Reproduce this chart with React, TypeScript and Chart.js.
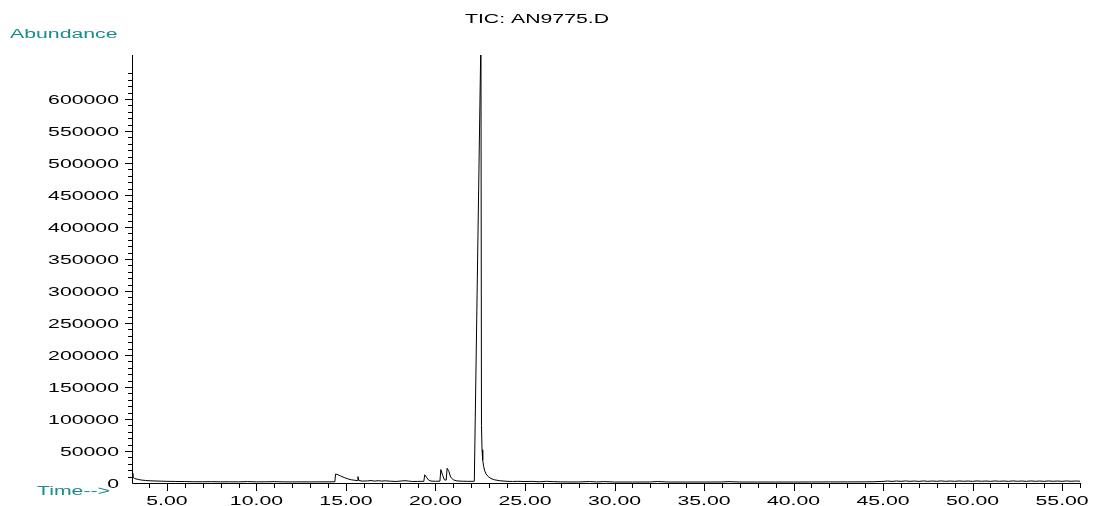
import React, { useEffect, useRef } from "react";
import { Chart, registerables } from "chart.js";

Chart.register(...registerables);

const TITLE = "TIC: AN9775.D";
const Y_LABEL = "Abundance";
const X_LABEL = "Time-->";

const TIMES = [
  3.05, 3.1, 3.2, 3.4, 3.6, 3.8, 4.0, 4.5, 5.0, 5.5, 6.0, 6.5, 7.0, 7.5, 8.0, 8.5, 9.0, 9.5, 10.0, 10.5,
  11.0, 11.5, 12.0, 12.5, 13.0, 13.5, 14.0, 14.38, 14.42, 14.55, 14.7, 14.9, 15.1, 15.3, 15.5, 15.62, 15.67, 15.72,
  15.9, 16.2, 16.4, 16.6, 16.8, 17.0, 17.2, 17.5, 17.8, 18.1, 18.3, 18.5, 18.7, 19.0, 19.35, 19.4, 19.5, 19.6,
  19.75, 20.0, 20.25, 20.3, 20.4, 20.5, 20.6, 20.65, 20.75, 20.85, 21.0, 21.2, 21.5, 21.8, 22.1, 22.17, 22.54,
  22.57, 22.6, 22.64, 22.69, 22.75, 22.83, 22.95, 23.1, 23.3, 23.6, 24.0, 24.3, 24.6, 25.0, 25.4, 25.8, 26.2, 26.6, 27.0,
  28.0, 28.6, 29.0, 29.4, 30.0, 31.0, 32.0, 32.4, 33.0, 34.0, 35.0, 36.0, 36.4, 37.0, 38.0, 39.0, 40.0, 41.0,
  42.0, 43.0, 44.0, 44.5, 45.0, 45.25, 45.5, 45.75, 46.0, 46.25, 46.5, 46.75, 47.0, 47.25, 47.5, 47.75, 48.0,
  48.25, 48.5, 48.75, 49.0, 49.25, 49.5, 49.75, 50.0, 50.25, 50.5, 50.75, 51.0, 51.25, 51.5, 51.75, 52.0, 52.25,
  52.5, 52.75, 53.0, 53.25, 53.5, 53.75, 54.0, 54.25, 54.5, 54.75, 55.0, 55.25, 55.5, 55.75, 56.0,
];

const ABUNDANCE = [
  15000, 9000, 7000, 5500, 4500, 4000, 3500, 3000, 2600, 2400, 2200, 2000, 1900, 2100, 1800, 1900, 1800, 2200, 1800, 1900,
  2100, 1800, 1700, 1800, 1700, 1800, 1800, 1900, 14000, 13000, 11000, 8500, 6500, 5000, 4200, 3800, 10000, 4000,
  3000, 3200, 3800, 3000, 3600, 3000, 3400, 2800, 2400, 3200, 3600, 3000, 2400, 2500, 2600, 12800, 9000, 5000,
  3000, 2700, 2900, 21000, 12000, 5000, 4500, 23000, 18000, 9000, 5000, 3200, 2800, 2600, 2600, 2800, 700000,
  90000, 52000, 36000, 26000, 19000, 14000, 10000, 7000, 5000, 3500, 2600, 2400, 2600, 2300, 2500, 1900, 2600, 2100, 1700,
  1600, 2300, 1600, 2200, 1500, 1500, 1600, 2300, 1500, 1500, 1500, 1600, 2100, 1500, 1500, 1500, 1500, 1600,
  1700, 1700, 1800, 2000, 2500, 3100, 2500, 3100, 2600, 3200, 2600, 3100, 2500, 3200, 2600, 3100, 2700,
  3200, 2600, 3100, 2600, 3200, 2700, 3100, 2600, 3200, 2700, 3100, 2600, 3200, 2700, 3100, 2600, 3200,
  2700, 3100, 2600, 3200, 2700, 3100, 2600, 3200, 2700, 3100, 2600, 3200, 2700, 3100, 2800,
];

const X_MIN = 3.05;
const X_MAX = 56.0;
const Y_MAX = 668750;
const X_MAJOR_TICKS = [5, 10, 15, 20, 25, 30, 35, 40, 45, 50, 55];
const Y_MAJOR_TICKS = [0, 50000, 100000, 150000, 200000, 250000, 300000, 350000, 400000, 450000, 500000, 550000, 600000];

const TEAL = "#1a8c8c";
const FONT = "12.5px 'Liberation Sans', Arial, sans-serif";
const STRETCH = 1.7;

function drawText(ctx: CanvasRenderingContext2D, text: string, x: number, y: number, align: CanvasTextAlign, color: string) {
  ctx.save();
  ctx.font = FONT;
  ctx.fillStyle = color;
  ctx.textAlign = align;
  ctx.textBaseline = "alphabetic";
  ctx.translate(x, y);
  ctx.scale(STRETCH, 1);
  ctx.fillText(text, 0, 0);
  ctx.restore();
}

const decorPlugin = {
  id: "decor",
  afterDraw(chart: any) {
    const { ctx, chartArea, scales } = chart;
    const xs = scales.x;
    const ys = scales.y;
    const left = chartArea.left;
    const bottom = chartArea.bottom;
    ctx.save();
    ctx.strokeStyle = "#000";
    ctx.lineWidth = 1;
    ctx.beginPath();
    ctx.moveTo(left + 0.5, chartArea.top);
    ctx.lineTo(left + 0.5, bottom + 0.5);
    ctx.lineTo(chartArea.right, bottom + 0.5);
    ctx.stroke();
    ctx.beginPath();
    for (let t = 4; t <= 56; t++) {
      const px = Math.round(xs.getPixelForValue(t)) + 0.5;
      const major = t % 5 === 0;
      ctx.moveTo(px, bottom);
      ctx.lineTo(px, bottom + (major ? 8 : 5));
    }
    for (let v = 10000; v <= 640000; v += 10000) {
      const py = Math.round(ys.getPixelForValue(v)) + 0.5;
      const major = v % 50000 === 0;
      ctx.moveTo(left, py);
      ctx.lineTo(left - (major ? 7 : 4), py);
    }
    ctx.stroke();
    ctx.restore();

    X_MAJOR_TICKS.forEach((t) => {
      drawText(ctx, t.toFixed(2), xs.getPixelForValue(t), 505, "center", "#000");
    });
    Y_MAJOR_TICKS.forEach((v) => {
      drawText(ctx, String(v), 119, ys.getPixelForValue(v) + 4.5, "right", "#000");
    });
    drawText(ctx, TITLE, 537, 23, "center", "#000");
    drawText(ctx, Y_LABEL, 10, 38, "left", TEAL);
    drawText(ctx, X_LABEL, 37, 495, "left", TEAL);
  },
};

export default function App() {
  const ref = useRef<HTMLCanvasElement | null>(null);
  useEffect(() => {
    if (!ref.current) return;
    const data = TIMES.map((t, i) => ({ x: t, y: ABUNDANCE[i] }));
    const chart = new Chart(ref.current, {
      type: "line",
      data: {
        datasets: [
          {
            label: TITLE,
            data,
            borderColor: "#000",
            borderWidth: 1,
            pointRadius: 0,
            tension: 0,
            fill: false,
          },
        ],
      },
      options: {
        responsive: false,
        animation: false,
        devicePixelRatio: 1,
        parsing: false as any,
        layout: { padding: { left: 132, right: 13, top: 55, bottom: 23 } },
        plugins: { legend: { display: false }, tooltip: { enabled: false }, title: { display: false } },
        scales: {
          x: { type: "linear", min: X_MIN, max: X_MAX, display: false },
          y: { type: "linear", min: 0, max: Y_MAX, display: false },
        },
      },
      plugins: [decorPlugin],
    });
    return () => chart.destroy();
  }, []);
  return (
    <div style={{ position: "fixed", left: 0, top: 0, width: 1093, height: 506, background: "#fff" }}>
      <canvas ref={ref} width={1093} height={506} style={{ width: 1093, height: 506 }} />
    </div>
  );
}
